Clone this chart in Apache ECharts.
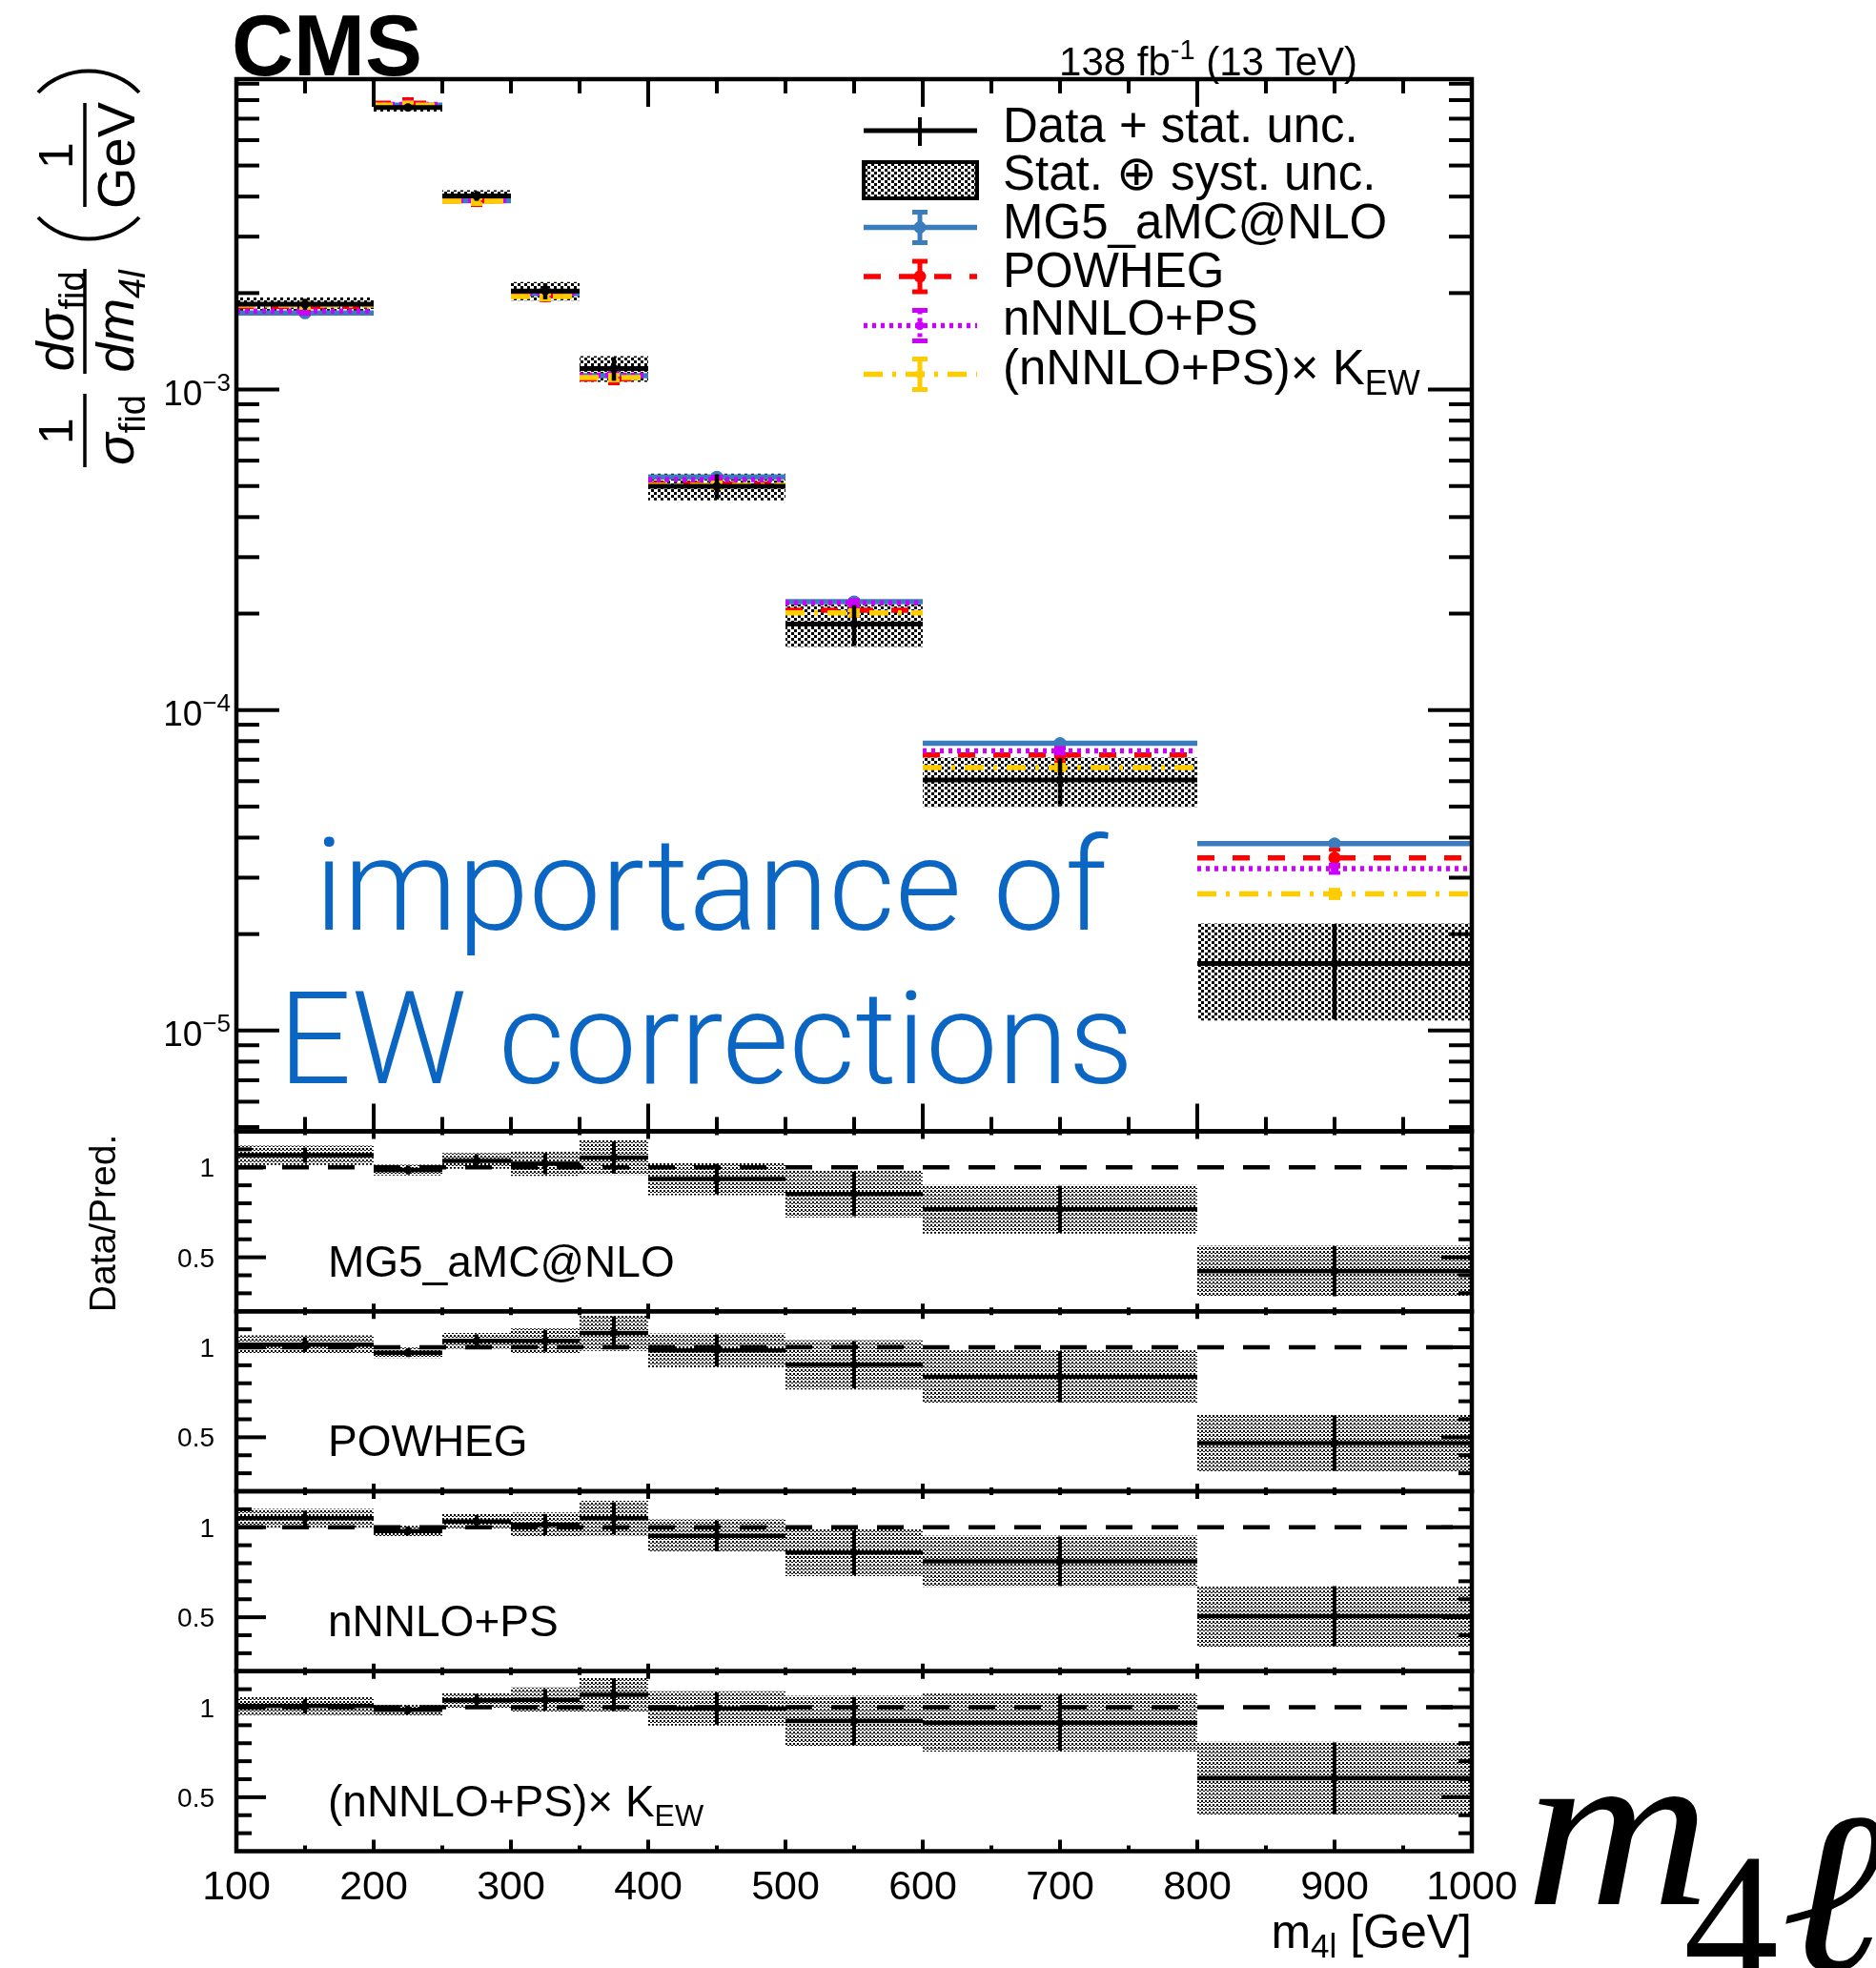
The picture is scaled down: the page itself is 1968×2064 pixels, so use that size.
<!DOCTYPE html>
<html>
<head>
<meta charset="utf-8">
<title>Normalised m4l differential cross section</title>
<script src="https://cdn.jsdelivr.net/npm/echarts@6/dist/echarts.min.js"></script>
<style>
html, body { margin: 0; padding: 0; background: #fff; }
#chart { width: 1968px; height: 2064px; }
</style>
</head>
<body>
<div id="chart"></div>
<script>
// ---------------- binning and values ----------------
const binEdges = [100, 200, 250, 300, 350, 400, 500, 600, 800, 1000];

// measured normalised cross section (1/GeV) with relative uncertainties
const dataVal     = [1.846e-3, 7.59e-3, 4.02e-3, 2.03e-3, 1.164e-3, 4.99e-4, 1.855e-4, 6.05e-5, 1.618e-5];
const dataStatRel = [0.040, 0.025, 0.035, 0.058, 0.085, 0.090, 0.145, 0.170, 0.330];
const dataTotRel  = [0.050, 0.030, 0.042, 0.066, 0.092, 0.096, 0.152, 0.176, 0.335];

// predictions
const predMG5    = [1.733e-3, 7.71e-3, 3.88e-3, 1.99e-3, 1.105e-3, 5.34e-4, 2.18e-4, 7.88e-5, 3.83e-5];
const predPOWHEG = [1.815e-3, 7.82e-3, 3.88e-3, 1.96e-3, 1.078e-3, 5.08e-4, 2.05e-4, 7.24e-5, 3.46e-5];
const predNNLO   = [1.758e-3, 7.75e-3, 3.89e-3, 2.00e-3, 1.109e-3, 5.24e-4, 2.16e-4, 7.46e-5, 3.20e-5];
const predKEW    = [1.835e-3, 7.71e-3, 3.87e-3, 1.95e-3, 1.089e-3, 5.03e-4, 2.01e-4, 6.62e-5, 2.67e-5];
const uncMG5     = [0.01, 0.01, 0.01, 0.01, 0.01, 0.01, 0.01, 0.01, 0.01];
const uncPOWHEG  = [0.03, 0.03, 0.03, 0.03, 0.03, 0.03, 0.04, 0.05, 0.06];
const uncNNLO    = [0.02, 0.02, 0.02, 0.02, 0.02, 0.02, 0.02, 0.02, 0.03];
const uncKEW     = [0.02, 0.02, 0.02, 0.02, 0.02, 0.02, 0.02, 0.02, 0.03];

// data / prediction ratios
const ratioMG5    = [1.067, 0.985, 1.036, 1.020, 1.054, 0.935, 0.852, 0.767, 0.423];
const ratioPOWHEG = [1.015, 0.970, 1.036, 1.036, 1.080, 0.983, 0.903, 0.836, 0.467];
const ratioNNLO   = [1.050, 0.979, 1.032, 1.015, 1.050, 0.952, 0.859, 0.811, 0.506];
const ratioKEW    = [1.006, 0.985, 1.038, 1.041, 1.069, 0.993, 0.923, 0.914, 0.605];

// axis tick labels
const xLabelValues = [100, 200, 300, 400, 500, 600, 700, 800, 900, 1000];
const yDecades = [-5, -4, -3];
const ratioLabels = [[1, '1'], [0.5, '0.5']];

// ---------------- layout ----------------
const SANS = '"Liberation Sans", Arial, Helvetica, sans-serif';
const SERIF = '"Liberation Serif", "DejaVu Serif", serif';
const LIGHT = '"Roboto Light", Roboto, "Liberation Sans", sans-serif';
const BLUE = '#3a7cbc', RED = '#ff0000', MAGENTA = '#cc00ff', GOLD = '#ffcc00', NOTE = '#0b66c3';
const Y_MIN = 4.85e-6, Y_MAX = 9.3e-3;
const R_MIN = 0.2, R_MAX = 1.2;
const FR_L = 248, FR_W = 1296;
const MAIN_TOP = 83, MAIN_H = 1103.5;
const R_H = 188.75;
const R_TOPS = [1186.5, 1375.25, 1564, 1752.75];

// ---------------- text helpers ----------------
const mctx = document.createElement('canvas').getContext('2d');
function fontOf(size, fam, st, wt) { return (st || 'normal') + ' ' + (wt || 'normal') + ' ' + size + 'px ' + fam; }
const midCache = {};
function midOff(size, fam, st, wt) {
  const key = fontOf(size, fam, st, wt);
  if (midCache[key] != null) return midCache[key];
  mctx.font = key;
  mctx.textBaseline = 'alphabetic';
  const a = mctx.measureText('H').actualBoundingBoxAscent;
  mctx.textBaseline = 'middle';
  const b = mctx.measureText('H').actualBoundingBoxAscent;
  mctx.textBaseline = 'alphabetic';
  let r = a - b;
  if (!isFinite(r)) r = 0.35 * size;
  midCache[key] = r;
  return r;
}
function textW(text, size, fam, st, wt) { mctx.font = fontOf(size, fam, st, wt); return mctx.measureText(text).width; }
function txt(x, yBase, text, size, o) {
  o = o || {};
  const fam = o.family || SANS, st = o.style || 'normal', wt = o.weight || 'normal';
  const col = o.color || '#000', al = o.align || 'left';
  const el = {
    type: 'text', x: x, y: yBase - midOff(size, fam, st, wt), silent: true,
    style: { text: text, fontSize: size, fontFamily: fam, fontStyle: st, fontWeight: wt,
      fill: col, textFill: col, align: al, textAlign: al, verticalAlign: 'middle', textVerticalAlign: 'middle' }
  };
  if (o.thin) {
    // a white outline drawn over the glyphs gives a lighter stroke weight
    Object.assign(el.style, { stroke: '#fff', textStroke: '#fff', lineWidth: o.thin, textStrokeWidth: o.thin, lineJoin: 'round' });
  }
  // horizontal stretch about the anchor point
  if (o.scaleX) { el.scaleX = o.scaleX; el.originX = 0; el.originY = 0; }
  return el;
}
// pieces share one baseline; each piece: [text, size, {dy, family, style, weight, color}]
function textRun(x, yBase, pieces, align, common) {
  common = common || {};
  const opts = pieces.map(p => Object.assign({}, common, p[2] || {}));
  const ws = pieces.map((p, i) => textW(p[0], p[1], opts[i].family || SANS, opts[i].style, opts[i].weight));
  const tot = ws.reduce((a, b) => a + b, 0);
  let cx = align === 'right' ? x - tot : align === 'center' ? x - tot / 2 : x;
  return pieces.map((p, i) => {
    const el = txt(cx, yBase + (opts[i].dy || 0), p[0], p[1], opts[i]);
    cx += ws[i];
    return el;
  });
}
function seg(x1, y1, x2, y2, w, col, dash) {
  const st = { stroke: col || '#000', lineWidth: w || 4 };
  if (dash) st.lineDash = dash;
  return { type: 'line', shape: { x1: x1, y1: y1, x2: x2, y2: y2 }, style: st, silent: true };
}

// ---------------- fill patterns for the uncertainty boxes ----------------
function makePattern(w, h, rects) {
  const cv = document.createElement('canvas');
  cv.width = w; cv.height = h;
  const g = cv.getContext('2d');
  g.fillStyle = '#000';
  rects.forEach(r => g.fillRect(r[0], r[1], r[2], r[3]));
  return { image: cv, repeat: 'repeat' };
}
const patMain = makePattern(7, 6, [[0, 0, 3, 3], [4, 3, 3, 3]]);
const patRatio = makePattern(4, 4, [[0, 0, 2, 2], [2, 2, 2, 1]]);

// ---------------- tick positions ----------------
const xTicks50 = [];
for (let v = 150; v < 1000; v += 50) xTicks50.push(v);
const yLogTicks = [];
for (let e = -6; e <= -3; e++) for (let m = 1; m <= 9; m++) {
  const v = m * Math.pow(10, e);
  if (v > Y_MIN && v < Y_MAX) yLogTicks.push({ v: v, major: m === 1 });
}
const rTicks = [0.3, 0.4, 0.5, 0.6, 0.7, 0.8, 0.9, 1.0, 1.1];

// ---------------- series builders ----------------
const bins = binEdges.slice(0, -1).map((lo, i) => [lo, binEdges[i + 1]]);

function boxSeries(grid, centre, rel, pat) {
  return {
    type: 'custom', xAxisIndex: grid, yAxisIndex: grid, z: 2, silent: true, animation: false, clip: false,
    encode: { x: [0, 1], y: [2, 3] },
    data: bins.map((b, i) => [b[0], b[1], centre[i] * (1 - rel[i]), centre[i] * (1 + rel[i])]),
    renderItem(params, api) {
      const p0 = api.coord([api.value(0), api.value(3)]);
      const p1 = api.coord([api.value(1), api.value(2)]);
      return { type: 'rect', shape: { x: p0[0], y: p0[1], width: p1[0] - p0[0], height: p1[1] - p0[1] }, style: { fill: pat } };
    }
  };
}

function dataSeries(grid, centre, statRel, lw) {
  return {
    type: 'custom', xAxisIndex: grid, yAxisIndex: grid, z: 4, silent: true, animation: false, clip: false,
    encode: { x: [0, 1], y: 2 },
    data: bins.map((b, i) => [b[0], b[1], centre[i], statRel[i]]),
    renderItem(params, api) {
      const lo = api.value(0), hi = api.value(1), v = api.value(2), s = api.value(3);
      const pl = api.coord([lo, v]), pr = api.coord([hi, v]);
      const xc = api.coord([(lo + hi) / 2, v])[0];
      const yu = api.coord([lo, v * (1 + s)])[1], yd = api.coord([lo, v * (1 - s)])[1];
      return { type: 'group', children: [
        seg(pl[0], pl[1], pr[0], pr[1], lw),
        seg(xc, yu, xc, yd, lw - 0.5),
        { type: 'circle', shape: { cx: xc, cy: pl[1], r: lw * 0.9 }, style: { fill: '#000' } }
      ] };
    }
  };
}

function predSeries(vals, unc, color, dash, markR) {
  return {
    type: 'custom', xAxisIndex: 0, yAxisIndex: 0, z: 3, silent: true, animation: false, clip: false,
    encode: { x: [0, 1], y: 2 },
    data: bins.map((b, i) => [b[0], b[1], vals[i], unc[i]]),
    renderItem(params, api) {
      const lo = api.value(0), hi = api.value(1), v = api.value(2), u = api.value(3);
      const pl = api.coord([lo, v]), pr = api.coord([hi, v]);
      const xc = api.coord([(lo + hi) / 2, v])[0];
      const yu = api.coord([lo, v * (1 + u)])[1], yd = api.coord([lo, v * (1 - u)])[1];
      return { type: 'group', children: [
        seg(pl[0], pl[1], pr[0], pr[1], 5.5, color, dash),
        seg(xc, yu, xc, yd, 4, color),
        seg(xc - 6, yu, xc + 6, yu, 4, color),
        seg(xc - 6, yd, xc + 6, yd, 4, color),
        { type: 'circle', shape: { cx: xc, cy: pl[1], r: markR }, style: { fill: color } }
      ] };
    }
  };
}

function unitySeries(grid) {
  return {
    type: 'custom', xAxisIndex: grid, yAxisIndex: grid, z: 3, silent: true, animation: false, clip: false,
    data: [[550, 1]],
    renderItem(params, api) {
      const a = api.coord([100, 1]), b = api.coord([1000, 1]);
      return seg(a[0], a[1], b[0], b[1], 4.5, '#000', [28, 20]);
    }
  };
}

// frame, ticks and tick labels of the main panel
function mainDecor() {
  return {
    type: 'custom', xAxisIndex: 0, yAxisIndex: 0, z: 6, silent: true, animation: false, clip: false,
    data: [[550, 1e-4]],
    renderItem(params, api) {
      const c = (x, y) => api.coord([x, y]);
      const xl = c(100, 1e-4)[0], xr = c(1000, 1e-4)[0];
      const yt = c(100, Y_MAX)[1], yb = c(100, Y_MIN)[1];
      const ch = [];
      yLogTicks.forEach(t => {
        const y = c(100, t.v)[1];
        ch.push(seg(xl, y, xl + (t.major ? 45 : 24), y, 4));
        ch.push(seg(xr - (t.major ? 46 : 24), y, xr, y, 4));
      });
      xTicks50.forEach(v => {
        const x = c(v, 1e-4)[0], len = v % 200 === 0 ? 29 : 15;
        ch.push(seg(x, yt, x, yt + len, 4));
        ch.push(seg(x, yb, x, yb - len, 4));
      });
      ch.push({ type: 'rect', shape: { x: xl, y: yt, width: xr - xl, height: yb - yt }, style: { fill: 'none', stroke: '#000', lineWidth: 4.5 } });
      yDecades.forEach(d => {
        const y = c(100, Math.pow(10, d))[1];
        textRun(242, y + 16.5, [['10', 37], ['\u2212' + (-d), 26, { dy: -15 }]], 'right').forEach(e => ch.push(e));
      });
      return { type: 'group', children: ch };
    }
  };
}

// frame, ticks and labels of a ratio panel
function ratioDecor(grid, isLast) {
  return {
    type: 'custom', xAxisIndex: grid, yAxisIndex: grid, z: 6, silent: true, animation: false, clip: false,
    data: [[550, 1]],
    renderItem(params, api) {
      const c = (x, y) => api.coord([x, y]);
      const xl = c(100, 1)[0], xr = c(1000, 1)[0];
      const yt = c(100, R_MAX)[1], yb = c(100, R_MIN)[1];
      const ch = [];
      rTicks.forEach(v => {
        const y = c(100, v)[1], major = Math.abs(v - 0.5) < 1e-6 || Math.abs(v - 1) < 1e-6;
        ch.push(seg(xl, y, xl + (major ? 31 : 16), y, 4));
        ch.push(seg(xr - (major ? 32 : 14), y, xr, y, 4));
      });
      xTicks50.forEach(v => {
        const x = c(v, 1)[0];
        const topLen = v % 200 === 0 ? 8 : 4;
        ch.push(seg(x, yt, x, yt + topLen, 4));
        const botLen = isLast ? (v % 100 === 0 ? 12 : 6) : topLen;
        ch.push(seg(x, yb, x, yb - botLen, 4));
      });
      ch.push({ type: 'rect', shape: { x: xl, y: yt, width: xr - xl, height: yb - yt }, style: { fill: 'none', stroke: '#000', lineWidth: 4.5 } });
      ratioLabels.forEach(l => {
        const y = c(100, l[0])[1];
        textRun(225, y + 10, [[l[1], 28]], 'right').forEach(e => ch.push(e));
      });
      if (isLast) {
        xLabelValues.forEach(v => {
          const x = c(v, 1)[0];
          textRun(x, 1992, [[String(v), 43]], 'center').forEach(e => ch.push(e));
        });
      }
      return { type: 'group', children: ch };
    }
  };
}

// ---------------- static annotations ----------------
function legendElements() {
  const els = [];
  const x0 = 906, x1 = 1025, xc = 965, tx = 1052;
  // data
  els.push(seg(x0, 137, x1, 137, 5), seg(xc, 123, xc, 153, 4));
  // stat+syst box
  els.push({ type: 'rect', shape: { x: 906, y: 170, width: 119, height: 38 }, style: { fill: patMain, stroke: '#000', lineWidth: 4 }, silent: true });
  const rows = [
    [238.5, BLUE, null, 6.5],
    [290, RED, [18, 19], 6.5],
    [341.5, MAGENTA, [4, 5], 4.5],
    [392.5, GOLD, [20, 10, 4, 10], 4.5]
  ];
  rows.forEach(r => {
    const y = r[0];
    els.push(seg(x0, y, x1, y, 5.5, r[1], r[2]));
    els.push(seg(xc, y - 16, xc, y + 16, 5, r[1], r[2] && r[2].length === 2 && r[2][0] < 6 ? [4, 4] : null));
    els.push(seg(xc - 8, y - 16, xc + 8, y - 16, 5, r[1]), seg(xc - 8, y + 16, xc + 8, y + 16, 5, r[1]));
    els.push({ type: 'circle', shape: { cx: xc, cy: y, r: r[3] }, style: { fill: r[1] }, silent: true });
  });
  const base = [148.5, 199, 250, 301, 351, 403];
  els.push(...textRun(tx, base[0], [['Data + stat. unc.', 51]], 'left'));
  els.push(...textRun(tx, base[1], [['Stat. ', 51], ['\u2295', 51, { family: '"DejaVu Sans", sans-serif' }], [' syst. unc.', 51]], 'left'));
  els.push(...textRun(tx, base[2], [['MG5_aMC@NLO', 51]], 'left'));
  els.push(...textRun(tx, base[3], [['POWHEG', 51]], 'left'));
  els.push(...textRun(tx, base[4], [['nNNLO+PS', 51]], 'left'));
  els.push(...textRun(tx, base[5], [['(nNNLO+PS)\u00d7 K', 51], ['EW', 36, { dy: 11 }]], 'left'));
  return els;
}

function yTitleGroup() {
  // laid out along the reading direction, then turned to read bottom-to-top
  const ch = [];
  const it = { style: 'italic' };
  const bar = (a, b) => seg(a, 89, b, 89, 3.5);
  ch.push(bar(10, 87));
  ch.push(...textRun(48, 76, [['1', 50]], 'center'));
  ch.push(...textRun(49, 140, [['\u03c3', 56, it], ['fid', 38, { dy: 12 }]], 'center'));
  ch.push(bar(108, 218));
  ch.push(...textRun(163, 77, [['d\u03c3', 56, it], ['fid', 38, { dy: 12 }]], 'center'));
  ch.push(...textRun(163, 140, [['dm', 56, it], ['4l', 38, { dy: 12, style: 'italic' }]], 'center'));
  ch.push({ type: 'bezierCurve', shape: { x1: 272, y1: 40, cpx1: 242, cpy1: 68, cpx2: 242, cpy2: 118, x2: 272, y2: 146 }, style: { stroke: '#000', lineWidth: 4, fill: 'none' }, silent: true });
  ch.push({ type: 'bezierCurve', shape: { x1: 403, y1: 40, cpx1: 433, cpy1: 68, cpx2: 433, cpy2: 118, x2: 403, y2: 146 }, style: { stroke: '#000', lineWidth: 4, fill: 'none' }, silent: true });
  ch.push(bar(283, 392));
  ch.push(...textRun(337, 76, [['1', 50]], 'center'));
  ch.push(...textRun(337, 141, [['GeV', 56]], 'center'));
  return { type: 'group', x: 0, y: 500, rotation: Math.PI / 2, children: ch, silent: true };
}

const panelNames = [
  [['MG5_aMC@NLO', 46]],
  [['POWHEG', 46]],
  [['nNNLO+PS', 46]],
  [['(nNNLO+PS)\u00d7 K', 46], ['EW', 32, { dy: 10 }]]
];

const noteStyle = { family: LIGHT, weight: 300, color: NOTE, thin: 5 };

const graphicEls = [];
graphicEls.push(...textRun(243, 79, [['CMS', 90, { weight: 'bold' }]], 'left'));
graphicEls.push(...textRun(1424, 79, [['138 fb', 42], ['-1', 29, { dy: -17 }], [' (13 TeV)', 42]], 'right'));
graphicEls.push(...legendElements());
graphicEls.push(yTitleGroup());
graphicEls.push({ type: 'group', x: 107, y: 1283, rotation: Math.PI / 2, silent: true,
  children: textRun(0, 14, [['Data/Pred.', 39]], 'center') });
panelNames.forEach((p, i) => graphicEls.push(...textRun(344, R_TOPS[i] + 152, p, 'left')));
graphicEls.push(...textRun(1544, 2043, [['m', 50], ['4l', 35, { dy: 10 }], [' [GeV]', 50]], 'right'));
graphicEls.push(...textRun(330, 975, [['importance of', 135, noteStyle]], 'left'));
graphicEls.push(...textRun(292, 1136, [['EW corrections', 135, noteStyle]], 'left'));
// large mass symbol m_{4l}
graphicEls.push(txt(1600, 1997, 'm', 240, { family: SERIF, style: 'italic', scaleX: 1.12 }));
graphicEls.push(txt(1766, 2081, '4', 200, { family: SERIF }));
graphicEls.push(txt(1868, 2066, '\u2113', 240, { family: SERIF, style: 'italic', scaleX: 1.08 }));

// ---------------- chart ----------------
const grids = [{ left: FR_L, top: MAIN_TOP, width: FR_W, height: MAIN_H }]
  .concat(R_TOPS.map(t => ({ left: FR_L, top: t, width: FR_W, height: R_H })));
const xAxes = grids.map((g, i) => ({ type: 'value', gridIndex: i, min: 100, max: 1000, show: false }));
const yAxes = [{ type: 'log', logBase: 10, gridIndex: 0, min: Y_MIN, max: Y_MAX, show: false }]
  .concat(R_TOPS.map((t, i) => ({ type: 'value', gridIndex: i + 1, min: R_MIN, max: R_MAX, show: false })));

const series = [
  boxSeries(0, dataVal, dataTotRel, patMain),
  predSeries(predMG5, uncMG5, BLUE, null, 6.5),
  predSeries(predPOWHEG, uncPOWHEG, RED, [18, 19], 6.5),
  predSeries(predNNLO, uncNNLO, MAGENTA, [4, 5], 4.5),
  predSeries(predKEW, uncKEW, GOLD, [20, 10, 4, 10], 4.5),
  dataSeries(0, dataVal, dataStatRel, 5),
  mainDecor()
];
[ratioMG5, ratioPOWHEG, ratioNNLO, ratioKEW].forEach((r, i) => {
  const g = i + 1;
  series.push(boxSeries(g, r, dataTotRel, patRatio));
  series.push(unitySeries(g));
  series.push(dataSeries(g, r, dataStatRel, 4.5));
  series.push(ratioDecor(g, i === 3));
});

const chart = echarts.init(document.getElementById('chart'), null, { renderer: 'canvas', width: 1968, height: 2064 });
chart.setOption({
  backgroundColor: '#fff',
  animation: false,
  grid: grids,
  xAxis: xAxes,
  yAxis: yAxes,
  series: series,
  graphic: { elements: graphicEls }
});
</script>
</body>
</html>
